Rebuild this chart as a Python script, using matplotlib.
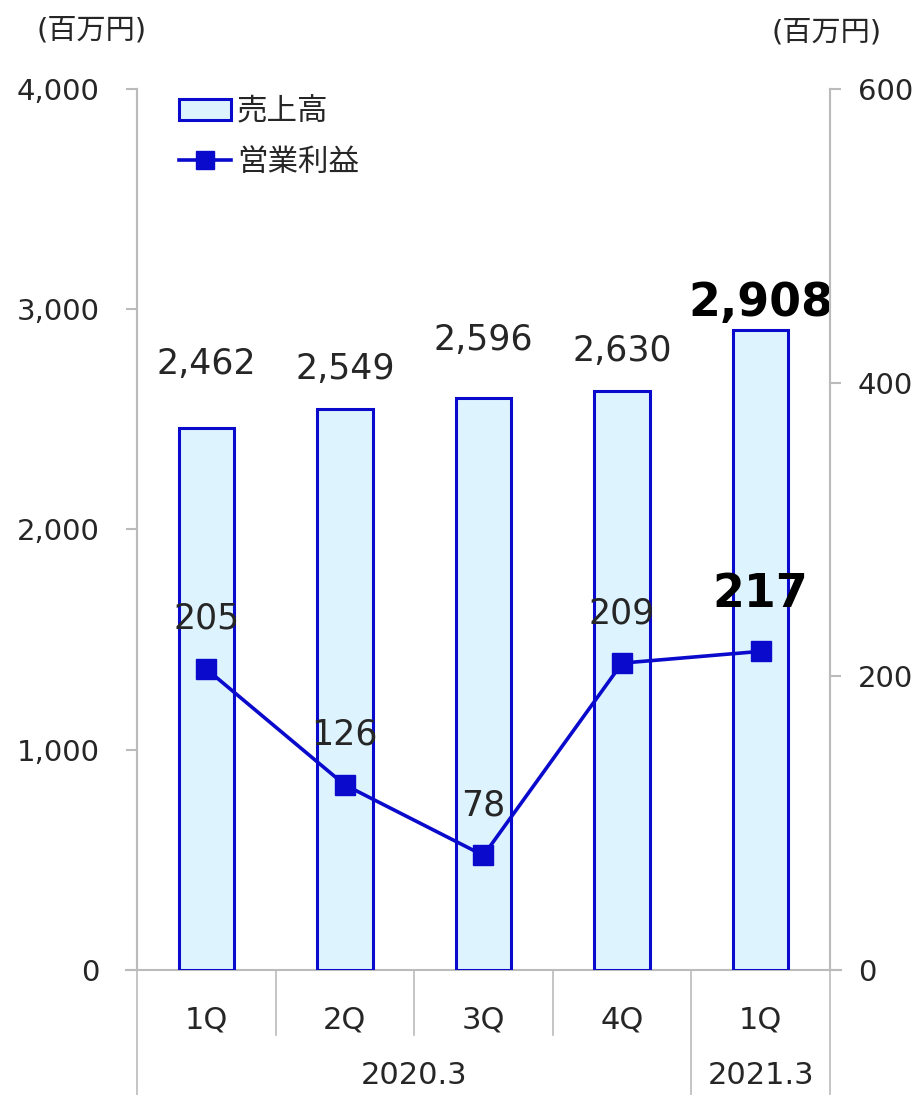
import matplotlib.pyplot as plt
from matplotlib.lines import Line2D
from matplotlib.patches import Patch

plt.rcParams['font.family'] = ['DejaVu Sans', 'Noto Sans CJK JP']

quarters = ['1Q', '2Q', '3Q', '4Q', '1Q']
years = ['2020.3', '2021.3']
year_span = [4, 1]
sales = [2462, 2549, 2596, 2630, 2908]
profit = [205, 126, 78, 209, 217]

# label gaps above bar tops, in pixels (the labels sit a little unevenly)
sales_gap = [64, 40, 58, 40, 4]

bar_face = '#DDF3FE'
blue = '#0A0ACC'
grey = '#BBBBBB'
txt = '#262626'

fig = plt.figure(figsize=(9.23, 10.95), dpi=100)
ax = fig.add_axes([0.1484, 0.1142, 0.7508, 0.8045])
ax2 = ax.twinx()

x = list(range(len(sales)))
ax.bar(x, sales, width=0.4, color=bar_face, edgecolor=blue, linewidth=2.2, zorder=2)
ax2.plot(x, profit, '-s', color=blue, lw=2.6, markersize=15, zorder=3)

ax.set_xlim(-0.5, len(sales) - 0.5)
ax.set_ylim(0, 4000)
ax2.set_ylim(0, 600)
ax.set_yticks([0, 1000, 2000, 3000, 4000])
ax.set_yticklabels(['0', '1,000', '2,000', '3,000', '4,000'])
ax2.set_yticks([0, 200, 400, 600])
ax.set_xticks([])

for a, pad in ((ax, 19), (ax2, 12)):
    for s in ('top', 'bottom'):
        a.spines[s].set_visible(False)
    a.spines['left'].set_color(grey)
    a.spines['right'].set_color(grey)
    a.spines['left'].set_linewidth(1.5)
    a.spines['right'].set_linewidth(1.5)
    a.tick_params(axis='y', colors=grey, labelcolor=txt, labelsize=21,
                  length=8, width=1.5, pad=pad)

# baseline extends a bit beyond both spines
ax.plot([-0.58, len(sales) - 0.42], [0, 0], color=grey, lw=1.5, clip_on=False, zorder=1)

px = 4000 / 881.0  # data units per pixel, left axis
px2 = 600 / 881.0
for i, v in enumerate(sales):
    last = i == len(sales) - 1
    ax.text(i, v + sales_gap[i] * px, f'{v:,}', ha='center',
            va='bottom' if last else 'center',
            fontsize=33 if last else 25, fontweight='bold' if last else 'normal',
            color='black' if last else txt)

for i, v in enumerate(profit):
    last = i == len(profit) - 1
    ax2.text(i, v + (57 if last else 50) * px2, f'{v}', ha='center', va='center',
             fontsize=33 if last else 25, fontweight='bold' if last else 'normal',
             color='black' if last else txt)

# category axis below
tr = ax.get_xaxis_transform()
for i, q in enumerate(quarters):
    ax.text(i, -0.057, q, transform=tr, ha='center', va='center', fontsize=22, color=txt)
edges = [-0.5 + k for k in range(len(sales) + 1)]
long_edges = [-0.5]
pos = -0.5
for n in year_span:
    pos += n
    long_edges.append(pos)
for e in edges:
    bottom = -0.15 if e in long_edges else -0.074
    ax.plot([e, e], [0, bottom], transform=tr, color=grey, lw=1.2, clip_on=False)
pos = -0.5
for yname, n in zip(years, year_span):
    ax.text(pos + n / 2, -0.12, yname, transform=tr, ha='center', va='center',
            fontsize=22, color=txt)
    pos += n

# unit labels
fig.text(0.099, 0.972, '(百万円)', ha='center', va='center', fontsize=21, color=txt)
fig.text(0.895, 0.970, '(百万円)', ha='center', va='center', fontsize=21, color=txt)

handles = [Patch(facecolor=bar_face, edgecolor=blue, linewidth=2.2),
           Line2D([0], [0], color=blue, lw=2.6, marker='s', markersize=13)]
leg = ax.legend(handles, ['売上高', '営業利益'], loc='upper left',
                bbox_to_anchor=(0.021, 1.022), frameon=False, fontsize=22,
                handlelength=1.7, handletextpad=0.2, labelspacing=0.7)
for t in leg.get_texts():
    t.set_color(txt)

fig.savefig('out.png', dpi=100)
